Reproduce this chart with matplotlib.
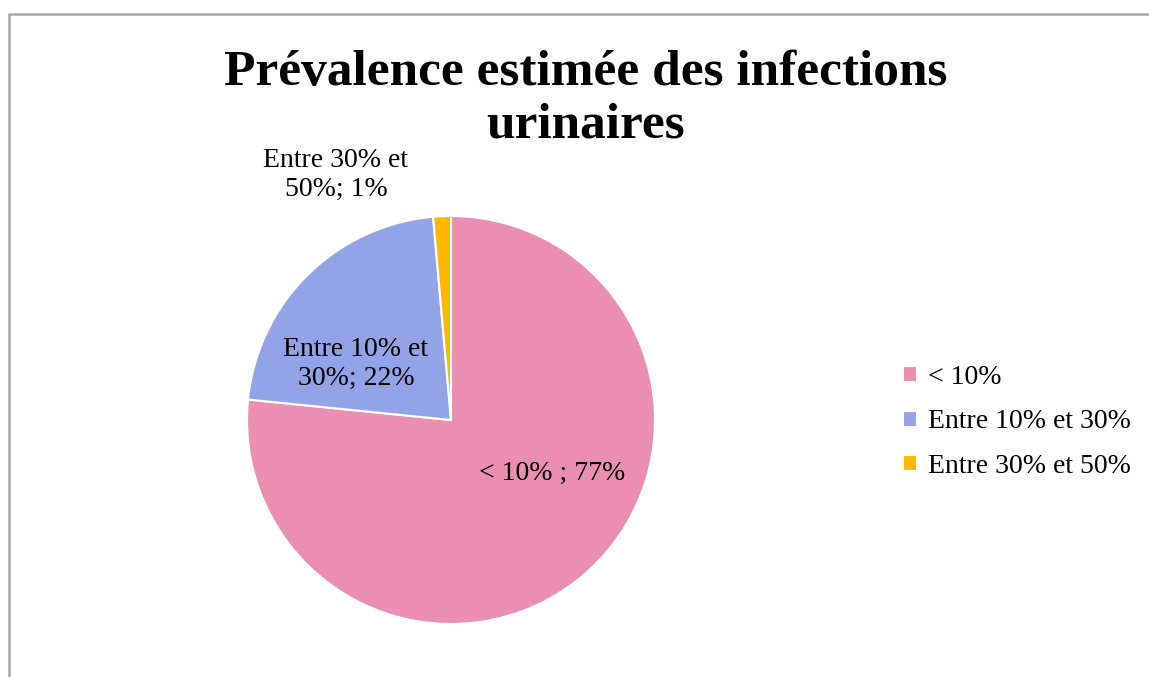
import numpy as np
import matplotlib.pyplot as plt
from matplotlib.patches import Rectangle

# Data
categories = ['< 10%', 'Entre 10% et 30%', 'Entre 30% et 50%']
shares = [76.6, 22.0, 1.4]
slice_labels = ['< 10% ; 77%', 'Entre 10% et\n30%; 22%', 'Entre 30% et\n50%; 1%']
colors = ['#EA8FB1', '#93A3E8', '#FFB800']

plt.rcParams['font.family'] = ['Liberation Serif', 'DejaVu Serif']

W, H = 1149, 677
fig = plt.figure(figsize=(W / 100, H / 100), dpi=100)

# chart frame
fig.patches.append(Rectangle((9 / W, -0.1), 1.2, (H - 14) / H + 0.1,
                             transform=fig.transFigure, fill=False,
                             edgecolor='#A6A6A6', linewidth=1.8))

cx, cy, r = 451, 420, 204
ax = fig.add_axes([(cx - r) / W, (H - cy - r) / H, 2 * r / W, 2 * r / H])
wedges, _ = ax.pie(shares, colors=colors, startangle=90, counterclock=False,
                   radius=1, wedgeprops=dict(edgecolor='white', linewidth=1.5))
ax.set_xlim(-1, 1)
ax.set_ylim(-1, 1)
ax.set_aspect('equal')
ax.axis('off')

# data labels (position in pie radius units)
label_pos = [(0.495, -0.26), (-0.466, 0.275), (-0.564, 1.20)]
for (x, y), lab in zip(label_pos, slice_labels):
    ax.text(x, y, lab, ha='center', va='center', fontsize=20,
            linespacing=1.2)

fig.text(586 / W, 1 - 99 / H, 'Prévalence estimée des infections\nurinaires',
         ha='center', va='center', fontsize=37, fontweight='bold',
         linespacing=1.2)

fig.legend(wedges, categories, loc='center left',
           bbox_to_anchor=(878 / W, 1 - 422 / H), frameon=False,
           fontsize=20, handlelength=0.5, handleheight=0.5,
           handletextpad=0.4, labelspacing=0.7)

fig.savefig('out.png', dpi=100)
